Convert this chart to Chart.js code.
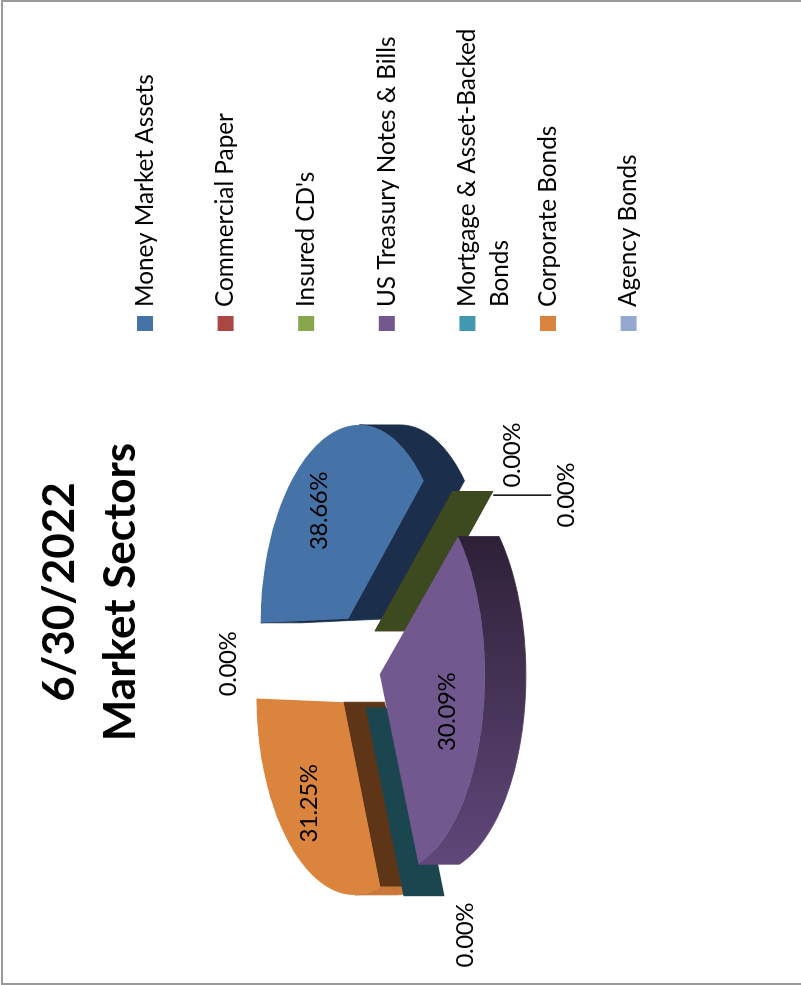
<!DOCTYPE html>
<html>
<head>
<meta charset="utf-8">
<title>Market Sectors</title>
<script src="https://cdn.jsdelivr.net/npm/chart.js@4/dist/chart.umd.min.js"></script>
<style>
  html, body { margin:0; padding:0; background:#fff; overflow:hidden; }
  body { width:801px; height:985px; position:relative; }
  /* sheet is laid out landscape and turned a quarter to the left */
  #sheet { position:absolute; left:0; top:985px; width:985px; height:801px; transform-origin:0 0; transform:rotate(-90deg); }
  #frame { position:absolute; left:1px; top:0; width:810px; height:981px; border:2px solid #9a9a9a; box-sizing:content-box; }
  .tick { position:absolute; top:984px; width:1px; height:1px; background:#9a9a9a; }
</style>
</head>
<body>
<div id="frame"></div>
<div class="tick" style="left:25px"></div>
<div class="tick" style="left:564px"></div>
<div id="sheet"><canvas id="c" width="985" height="801"></canvas></div>
<script>
'use strict';

var titleLines = ['6/30/2022', 'Market Sectors'];
var sectors = ['Money Market Assets', 'Commercial Paper', "Insured CD's", 'US Treasury Notes & Bills', 'Mortgage & Asset-Backed Bonds', 'Corporate Bonds', 'Agency Bonds'];
var shares = [38.66, 0, 0, 30.09, 0, 31.25, 0];

var faceColors = ['#4572a7', '#aa4643', '#89a54e', '#71588f', '#4198af', '#db843d', '#93a9cf'];
var wallColors = ['#1b2f4c', '#5a2422', '#3d4a20', '#2f2138', '#1b4650', '#5e3617', '#4a5a78'];
var rimColors  = ['#1b2f4c', '#5a2422', '#3d4a20', null, '#1b4650', '#c9773a', '#4a5a78'];

// back to front, so the treasury wedge sits on top of the thin walls
var drawOrder = [0, 1, 2, 5, 4, 3, 6];

var FONT = "Lato, 'Open Sans', sans-serif";

// ── fake 3D: tilted disc with a little perspective ──
var PIE = { cx:322, cy:356.5, explode:0.246, depth:41 };

function project(u, v){
  return {
    x: PIE.cx + u * (194 + 18 * v),
    y: PIE.cy + 95.4 * v + 6.6 * v * v
  };
}

// point on a wedge: frac of the radius along angle, pushed out along the wedge's middle
function wedgePoint(arc, angle, frac){
  var mid = (arc.startAngle + arc.endAngle) / 2;
  return project(
    Math.cos(angle) * frac + Math.cos(mid) * PIE.explode,
    Math.sin(angle) * frac + Math.sin(mid) * PIE.explode
  );
}

function fillPoly(ctx, pts, color, seam){
  ctx.beginPath();
  pts.forEach(function(p, i){ i ? ctx.lineTo(p.x, p.y) : ctx.moveTo(p.x, p.y); });
  ctx.closePath();
  ctx.fillStyle = color;
  ctx.fill();
  if(seam){
    ctx.strokeStyle = color;
    ctx.lineWidth = 0.8;
    ctx.stroke();
  }
}

function drop(p){ return { x:p.x, y:p.y + PIE.depth }; }

// side band under a run of edges, only where they turn towards the viewer
function drawSides(ctx, pts, color){
  var run = [];
  function flush(){
    if(run.length > 1) fillPoly(ctx, run.concat(run.map(drop).reverse()), color, true);
    run = [];
  }
  for(var k = 0; k < pts.length - 1; k++){
    if(pts[k + 1].x < pts[k].x){
      if(!run.length) run.push(pts[k]);
      run.push(pts[k + 1]);
    } else {
      flush();
    }
  }
  flush();
}

function drawWedge(ctx, arc, i){
  var center = wedgePoint(arc, arc.startAngle, 0);

  // zero share: only the standing wall is left
  if(arc.endAngle - arc.startAngle < 1e-6){
    var rim = wedgePoint(arc, arc.startAngle, 1);
    fillPoly(ctx, [center, rim, drop(rim), drop(center)], wallColors[i], false);
    return;
  }

  var rimPts = [];
  var steps = 72;
  for(var s = 0; s <= steps; s++){
    rimPts.push(wedgePoint(arc, arc.startAngle + (arc.endAngle - arc.startAngle) * s / steps, 1));
  }

  var rimFill = rimColors[i];
  if(!rimFill){
    rimFill = ctx.createLinearGradient(445, 0, 123, 0);
    rimFill.addColorStop(0, '#2f2138');
    rimFill.addColorStop(1, '#5f4779');
  }

  var last = rimPts[steps];
  if(rimFill === wallColors[i]){
    // same shade all round, one band so no join shows
    drawSides(ctx, [center].concat(rimPts, [center]), rimFill);
  } else {
    drawSides(ctx, [center, rimPts[0]], wallColors[i]);
    drawSides(ctx, rimPts, rimFill);
    if(last.x - center.x > 6) drawSides(ctx, [last, center], wallColors[i]);
  }

  fillPoly(ctx, [center].concat(rimPts), faceColors[i], false);
}

function putText(ctx, text, x, y){
  ctx.font = '24px ' + FONT;
  ctx.letterSpacing = '-0.4px';
  ctx.fillStyle = '#000';
  ctx.textAlign = 'center';
  ctx.textBaseline = 'middle';
  ctx.fillText(text, x, y);
  ctx.letterSpacing = '0px';
}

// label nudges: wedge labels from their 62% point, zero-share labels from the wall's outer end
var valueLabelShift = { 0:[-1, -9], 3:[-7, 6], 5:[-7, -3] };
var zeroLabelShift = { 1:[36, 60], 2:[-4, 114], 4:[-39, 62], 6:[-1, -20] };

var tiltedPie = {
  id: 'tiltedPie',
  beforeDatasetsDraw: function(chart){
    var ctx = chart.ctx;
    var arcs = chart.getDatasetMeta(0).data;
    ctx.save();
    drawOrder.forEach(function(i){ drawWedge(ctx, arcs[i], i); });

    // leader for Insured CD's
    var end = wedgePoint(arcs[2], arcs[2].startAngle, 1);
    ctx.beginPath();
    ctx.moveTo(end.x - 4, end.y + PIE.depth);
    ctx.lineTo(end.x - 4, end.y + 99);
    ctx.strokeStyle = '#000';
    ctx.lineWidth = 1.5;
    ctx.stroke();

    arcs.forEach(function(arc, i){
      var label = shares[i].toFixed(2) + '%';
      var p, d;
      if(shares[i] > 0){
        p = wedgePoint(arc, (arc.startAngle + arc.endAngle) / 2, 0.62);
        d = valueLabelShift[i];
      } else {
        p = wedgePoint(arc, arc.startAngle, 1);
        d = zeroLabelShift[i];
      }
      putText(ctx, label, p.x + d[0], p.y + d[1]);
    });
    ctx.restore();
    return false;
  }
};

// legend down the right side, one long name breaks onto a second line
var sideLegend = {
  id: 'sideLegend',
  afterDraw: function(chart){
    var ctx = chart.ctx;
    var top = 137, rowGap = 80.6, box = 15, textX = 678;
    ctx.save();
    sectors.forEach(function(name, i){
      var y = top + rowGap * i;
      ctx.fillStyle = faceColors[i];
      ctx.fillRect(654, y, box, box + 1);
      var lines = name.indexOf('Backed') > -1 ? ['Mortgage & Asset-Backed', 'Bonds'] : [name];
      ctx.font = '24.3px ' + FONT;
      ctx.fillStyle = '#000';
      ctx.textAlign = 'left';
      ctx.textBaseline = 'middle';
      lines.forEach(function(t, j){ ctx.fillText(t, textX, y + 8 + j * 33); });
    });
    ctx.restore();
  }
};

new Chart(document.getElementById('c'), {
  type: 'pie',
  data: {
    labels: sectors,
    datasets: [{ data: shares, backgroundColor: faceColors, borderWidth: 0 }]
  },
  options: {
    responsive: false,
    animation: false,
    events: [],
    layout: { padding: { right: 199 } },
    plugins: {
      legend: { display: false },
      tooltip: { enabled: false },
      title: {
        display: true,
        text: titleLines,
        color: '#000',
        font: { family: FONT, size: 44, weight: 'bold', lineHeight: 1.37 },
        padding: { top: 30, bottom: 10 }
      }
    }
  },
  plugins: [tiltedPie, sideLegend]
});
</script>
</body>
</html>
